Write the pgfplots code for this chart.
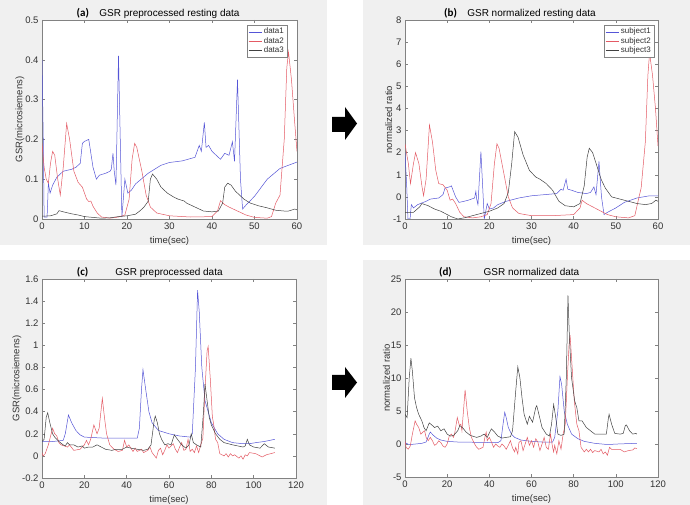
\documentclass[border=0pt]{standalone}
\usepackage{pgfplots}
\pgfplotsset{compat=1.18}
\usepackage{fontspec}
\setmainfont{Liberation Sans}
\newfontfamily\carlito{Carlito}
\definecolor{bg}{RGB}{240,240,240}
\definecolor{c1}{RGB}{85,85,215}
\definecolor{c2}{RGB}{228,90,100}
\definecolor{c3}{RGB}{65,65,65}
\definecolor{axc}{RGB}{130,130,130}
\definecolor{txt}{RGB}{50,50,50}
\tikzset{plab/.style={font=\carlito\bfseries\fontsize{11}{12}\selectfont, anchor=base, yshift=3.5pt}}
\pgfplotsset{
 every axis title shift=0pt,
 gsr/.style={
  scale only axis, anchor=south west, clip mode=individual,
  axis line style={axc, line width=0.5pt},
  every tick/.style={axc, line width=0.5pt},
  major tick length=3pt,
  tick align=inside,
  /pgf/number format/assume math mode=true,
  /pgf/number format/fixed,
  tick label style={font=\fontsize{9.5}{11}\selectfont, text=txt},
  label style={font=\fontsize{9.5}{11}\selectfont, text=txt},
  ylabel shift=-6pt,
  title style={font=\fontsize{10}{12}\selectfont, text=black, at={(0.5,1)}, anchor=base, yshift=3.5pt},
  axis background/.style={fill=white},
  every axis plot/.append style={line width=0.5pt, mark=none},
  xlabel={time(sec)},
  legend cell align=left,
  legend style={draw=axc, fill=white, font=\fontsize{8}{9}\selectfont, text=txt, inner sep=1pt, row sep=-2pt},
  legend image code/.code={\draw[#1] (0pt,0pt) -- (13pt,0pt);},
 },
}
\begin{document}
\begin{tikzpicture}
\useasboundingbox (0pt,0pt) rectangle (690pt,505pt);
\fill[bg] (0pt,260pt) rectangle (327pt,505pt);
\fill[bg] (363pt,260pt) rectangle (690pt,505pt);
\fill[bg] (0pt,0pt) rectangle (327pt,245pt);
\fill[bg] (363pt,0pt) rectangle (690pt,245pt);
\fill (332pt,373pt) -- (345pt,373pt) -- (345pt,365pt) -- (357pt,381.5pt) -- (345pt,398pt) -- (345pt,388pt) -- (332pt,388pt) -- cycle;
\fill (332pt,115pt) -- (345pt,115pt) -- (345pt,107pt) -- (357pt,122.5pt) -- (345pt,138pt) -- (345pt,130pt) -- (332pt,130pt) -- cycle;

% (a)
\begin{axis}[gsr, at={(42pt,286pt)}, width=255pt, height=199pt,
  xmin=0, xmax=60, ymin=0, ymax=0.5,
  xtick={0,10,20,30,40,50,60}, ytick={0,0.1,0.2,0.3,0.4,0.5},
  ylabel={GSR(microsiemens)}, title={GSR preprocessed resting data},
  legend style={at={(0.961,0.975)}, anchor=north east}]
\addplot[c1] coordinates {(0,0.40) (0.3,0.20) (0.5,0.005) (1.2,0.005) (1.5,0.09) (1.9,0.065) (2.5,0.085) (3.5,0.105) (5,0.12) (7,0.125) (8,0.13) (9,0.14) (9.5,0.19) (10,0.195) (11,0.2) (12,0.13) (12.8,0.1) (13.5,0.11) (15,0.115) (16,0.12) (16.3,0.125) (16.7,0.165) (17,0.12) (17.4,0.085) (18,0.41) (18.8,0.005) (19.5,0.1) (20.2,0.065) (21,0.072) (22,0.088) (25,0.115) (28,0.135) (30,0.142) (33,0.146) (36,0.155) (37,0.185) (37.5,0.17) (38.2,0.243) (38.6,0.18) (39.2,0.185) (40,0.17) (41,0.16) (42,0.15) (43,0.165) (44,0.16) (44.8,0.194) (45.3,0.145) (46,0.35) (46.7,0.1) (47.2,0.025) (48,0.035) (50,0.057) (53,0.1) (56,0.127) (60,0.143)};
\addplot[c2] coordinates {(0,0.19) (0.5,0.13) (1,0.1) (1.5,0.09) (2,0.14) (2.5,0.17) (3,0.16) (3.7,0.1) (4.3,0.06) (5,0.13) (5.8,0.24) (6.5,0.2) (7.5,0.12) (8.5,0.092) (9.5,0.08) (10.5,0.05) (11,0.044) (11.5,0.045) (12,0.032) (13,0.015) (14,0.005) (16,0.002) (18,0.005) (19.5,0.01) (20.5,0.05) (21.2,0.15) (21.8,0.19) (22.3,0.18) (23.5,0.12) (24.5,0.06) (25.5,0.03) (27,0.015) (30,0.008) (35,0.005) (40,0.006) (41.3,0.02) (42,0.046) (43,0.036) (44,0.03) (46,0.02) (48,0.01) (50,0.004) (53,0.002) (54,0.006) (55,0.04) (56,0.06) (57,0.2) (57.6,0.38) (58,0.42) (58.7,0.35) (59.4,0.25) (60,0.17)};
\addplot[c3] coordinates {(0,0.007) (2,0.008) (3.5,0.013) (4,0.021) (5,0.018) (7,0.013) (8.5,0.01) (10,0.006) (12,0.004) (14,0.002) (16,0.003) (18,0.006) (20,0.008) (22,0.012) (23,0.02) (24,0.03) (25,0.045) (25.5,0.1) (26,0.113) (27,0.1) (28,0.08) (29.5,0.065) (31,0.055) (32,0.05) (33.5,0.045) (34,0.04) (36,0.03) (38,0.02) (40,0.018) (41.5,0.02) (42.5,0.04) (43,0.08) (43.7,0.09) (44.5,0.085) (45.5,0.07) (46.5,0.06) (47.5,0.05) (49,0.04) (51,0.033) (53,0.028) (55,0.022) (57,0.02) (58,0.02) (59.5,0.025) (60,0.023)};
\legend{data1,data2,data3}
\node[plab] at (rel axis cs:0.16,1) {(a)};
\end{axis}

% (b)
\begin{axis}[gsr, at={(405pt,286pt)}, width=253pt, height=199pt,
  xmin=0, xmax=60, ymin=-1, ymax=8,
  xtick={0,10,20,30,40,50,60}, ytick={-1,0,1,2,3,4,5,6,7,8},
  ylabel={normalized ratio}, title={GSR normalized resting data},
  legend style={at={(0.984,0.975)}, anchor=north east}]
\addplot[c1] coordinates {(0,2.0) (0.4,0.5) (0.7,-1) (1.2,-1) (1.5,-0.35) (2,-0.5) (3,-0.35) (5,-0.2) (6,-0.1) (8,-0.05) (9,0.1) (9.5,0.4) (10.5,0.45) (11,0.5) (12,0) (12.8,-0.25) (14,-0.2) (15,-0.15) (16.5,-0.05) (16.8,0.25) (17,-0.1) (17.3,-0.35) (18,2.05) (18.8,-1) (19.5,-0.3) (20,-0.55) (21,-0.5) (22,-0.35) (24,-0.2) (27,-0.05) (30,0.05) (33,0.1) (36,0.15) (37,0.35) (37.5,0.3) (38.2,0.8) (38.6,0.35) (39.5,0.3) (41,0.2) (43,0.15) (44,0.2) (44.8,0.45) (45.3,0.1) (46,1.6) (46.6,0) (47.2,-0.8) (48,-0.7) (50,-0.5) (52,-0.25) (55,-0.05) (58,0.05) (60,0.05)};
\addplot[c2] coordinates {(0,2.4) (0.8,1.5) (1.3,0.6) (2,1.5) (2.5,2.0) (3.3,1.5) (4,0.5) (4.4,0.05) (5,0.8) (5.8,3.25) (6.5,2.5) (7.3,1.2) (8,0.6) (9,0.55) (10,0.3) (10.7,-0.15) (11.3,-0.1) (12,-0.3) (13,-0.7) (14,-0.9) (16,-0.95) (18,-0.9) (19.5,-0.8) (20.4,-0.3) (21.2,1.5) (21.8,2.4) (22.3,2.2) (23.5,1) (24.5,0) (25.5,-0.5) (27,-0.75) (30,-0.85) (35,-0.85) (40,-0.8) (41.5,-0.5) (42,-0.15) (43,-0.3) (44,-0.4) (46,-0.6) (48,-0.8) (50,-0.9) (53,-0.95) (54.5,-0.85) (55.5,0) (56,0.4) (57,2.5) (57.6,5.5) (58,6.5) (58.7,5.5) (59.4,4) (60,2.3)};
\addplot[c3] coordinates {(0,-0.7) (2,-0.7) (3.5,-0.45) (4,-0.3) (5.5,-0.4) (7,-0.55) (8.5,-0.65) (10,-0.8) (11,-0.9) (12.5,-1) (14,-0.95) (16,-0.85) (18,-0.75) (20,-0.65) (22,-0.5) (23.5,-0.3) (24.5,0.2) (25.3,1.5) (26,2.95) (26.8,2.7) (28,1.9) (29.5,1.2) (31,0.9) (32,0.8) (33.5,0.6) (35,0.3) (36.5,-0.2) (38,-0.4) (40,-0.45) (41.5,-0.3) (42.5,0.5) (43.2,1.8) (43.7,2.2) (44.5,2.0) (45.5,1.4) (46.5,0.8) (47.5,0.4) (49,0) (51,-0.1) (53,-0.2) (55,-0.3) (57,-0.35) (58.5,-0.3) (59.5,-0.15) (60,-0.2)};
\legend{subject1,subject2,subject3}
\node[plab] at (rel axis cs:0.18,1) {(b)};
\end{axis}

% (c)
\begin{axis}[gsr, at={(42pt,27pt)}, width=254pt, height=199pt,
  xmin=0, xmax=120, ymin=-0.2, ymax=1.6,
  xtick={0,20,40,60,80,100,120}, ytick={-0.2,0,0.2,0.4,0.6,0.8,1,1.2,1.4,1.6},
  ylabel={GSR(microsiemens)}, title={GSR preprocessed data}]
\addplot[c1] coordinates {(0,0.13) (5,0.13) (10,0.14) (11,0.2) (12.5,0.37) (14,0.3) (16,0.23) (18,0.19) (20,0.17) (25,0.165) (30,0.16) (40,0.16) (45,0.16) (46,0.25) (47,0.6) (47.7,0.78) (49,0.6) (50.5,0.4) (52,0.3) (55,0.23) (60,0.2) (65,0.18) (70,0.17) (71,0.2) (72.5,0.8) (73.5,1.5) (74.3,1.3) (75.5,0.8) (77,0.5) (80,0.3) (83,0.2) (86,0.15) (90,0.12) (95,0.11) (98,0.11) (101,0.12) (105,0.13) (110,0.15)};
\addplot[c2] coordinates {(0,0.03) (0.5,0) (1.5,0.02) (3,0.1) (5,0.25) (6,0.2) (7,0.18) (8,0.12) (9,0.1) (12,0.08) (13,0.1) (15,0.05) (18,0.06) (20,0.1) (21,0.14) (22,0.1) (23,0.15) (24.5,0.28) (26,0.2) (27,0.25) (28.5,0.52) (29.5,0.35) (30.5,0.2) (32,0.1) (34,0.06) (36,0.04) (38,0.05) (39,0.14) (40,0.08) (41,0.1) (43,0.04) (44,0.07) (45,0.04) (47,0.06) (48,0.03) (50,0.05) (51,0.08) (52,0.03) (54,-0.02) (55,0.05) (56,0.07) (57,0.01) (58,0.05) (59,0.1) (60,0.07) (62,0.11) (63,0.06) (64,0.03) (65,0.08) (66,0.12) (67,0.05) (68,0.06) (69,0.15) (70,0.04) (71,0.06) (72,0.03) (73,0.09) (74,0.03) (75,0.1) (76,0.16) (77,0.6) (78,0.95) (78.5,0.99) (79.5,0.7) (80.5,0.35) (81,0.3) (82,0.15) (83,0.12) (84,0.02) (86,0) (87,0.02) (88,-0.01) (89,0.02) (90,0) (91,0.01) (93,-0.02) (94,0) (95,-0.03) (96,0.01) (97,0) (98,0.03) (101,0.02) (104,-0.01) (106,0.01) (108,0.02) (110,0.03)};
\addplot[c3] coordinates {(0,0.13) (1,0.15) (2,0.35) (2.7,0.39) (3.7,0.3) (5,0.2) (6,0.17) (7,0.15) (8,0.13) (10,0.1) (11,0.09) (12,0.12) (13,0.1) (15,0.1) (17,0.08) (19,0.09) (20,0.07) (22,0.08) (24,0.08) (26,0.1) (28,0.08) (30,0.06) (33,0.05) (35,0.06) (38,0.06) (40,0.08) (42,0.07) (45,0.06) (48,0.05) (50,0.06) (51.5,0.1) (53,0.32) (53.5,0.36) (54.5,0.3) (55.5,0.2) (56.5,0.15) (58,0.1) (59.5,0.11) (61,0.1) (62.5,0.19) (64,0.15) (66,0.1) (68,0.07) (69.5,0.1) (70.5,0.2) (71.5,0.12) (73,0.1) (75,0.08) (76.3,0.4) (77,0.65) (78,0.5) (79,0.35) (80,0.28) (82,0.2) (84,0.15) (86,0.12) (90,0.1) (95,0.08) (96,0.09) (97,0.15) (98,0.1) (100,0.08) (103,0.07) (104,0.09) (105,0.11) (107,0.08) (110,0.07)};
\node[plab] at (rel axis cs:0.16,1) {(c)};
\end{axis}

% (d)
\begin{axis}[gsr, at={(405pt,28pt)}, width=253pt, height=198pt,
  xmin=0, xmax=120, ymin=-5, ymax=25,
  xtick={0,20,40,60,80,100,120}, ytick={-5,0,5,10,15,20,25},
  ylabel={normalized ratio}, title={GSR normalized data}]
\addplot[c1] coordinates {(0,0.2) (2,-0.1) (5,0) (8,0.1) (10,0.3) (11.5,1.5) (12,1.8) (13.5,1.3) (15,0.9) (17,0.6) (20,0.4) (25,0.3) (35,0.25) (44,0.2) (45.5,0.5) (46.5,3) (47.3,4.8) (48,4) (49,2.5) (50.5,1.5) (52,1) (55,0.6) (60,0.4) (65,0.3) (70,0.3) (71,1) (72.5,5) (73.5,10.2) (74.3,9) (75.5,5) (77,3) (79,1.5) (82,0.8) (85,0.4) (90,0.1) (95,-0.05) (98,-0.05) (101,0) (105,0.05) (110,0.1)};
\addplot[c2] coordinates {(0,0.5) (0.5,-0.5) (1.5,-0.8) (2.5,-0.3) (3.5,1.5) (4.8,3.5) (5.5,3) (6.5,2.5) (7.5,1.5) (8.5,1.8) (9.3,2) (10,1) (11,0.5) (12,1) (13,0.5) (14,-0.2) (15,0) (16,0.5) (17,0.2) (18,-0.3) (19,-0.5) (20,0) (21,1.2) (22,1.5) (23,1) (23.5,1.5) (24.8,4) (25.8,2.8) (26.5,3) (27,2) (28.5,8.2) (29.5,5) (30.5,2.5) (31.5,1) (33,0) (34,-0.5) (35,-0.8) (37,-0.5) (38,1.2) (38.5,1.8) (39,0.5) (40,1) (41,0.3) (42,-0.5) (43,0) (44,-0.3) (45,-0.5) (46,0) (47,-0.3) (48,-0.8) (49,-0.2) (50,0.5) (51,-0.6) (52,-1.2) (52.5,-0.5) (53.5,-1.5) (54,0.2) (55,0.5) (56,-1) (57,0) (58,1) (59,-0.2) (60,0.5) (61,-0.5) (62,0.8) (63,0.3) (64,-1) (65,0) (66,1) (67,-0.5) (68,-0.8) (69,1.5) (70,-0.5) (70.5,-1.2) (71,-0.2) (72,-1.5) (73,0.5) (74,-0.8) (75,1.5) (76,3) (77,10) (77.8,15) (78.3,16.5) (79.2,12) (80.3,6.5) (81.5,3) (82.5,2) (83.5,-0.5) (85,-1.2) (86,-0.8) (87,-1.2) (88,-0.8) (89,-1.3) (90,-1) (92,-1.2) (93,-0.8) (94,-1.5) (95,-1.2) (96,-1.7) (97,-0.5) (98,-0.8) (100,-0.8) (102,-0.8) (104,-1.2) (106,-1) (108,-0.9) (109,-0.6) (110,-0.7)};
\addplot[c3] coordinates {(0,4.5) (1,4) (2,10) (2.8,13) (3.5,11) (4.5,7) (5.5,5.5) (6.5,4.5) (8,3.5) (9,2.5) (10,2) (11.5,3.2) (13,2.8) (14,2.5) (15.5,2.7) (17,2) (18.5,2.3) (20,1.5) (21.5,1.2) (23,1.3) (25,2) (26,2.8) (27.5,2.4) (29,1.8) (31,1.3) (34,1) (36,1.2) (37.5,1.5) (39,1) (40.5,2) (41,2.3) (42.5,1.8) (44,1.2) (46,0.9) (48,1) (50,1.1) (51,2) (52.5,8) (53.5,11.7) (54.5,10) (55.5,7) (56.5,4.5) (58,3) (59,4.2) (60.5,3.3) (62,5.5) (62.5,5.8) (63.5,4.5) (65,2.5) (67,1.5) (68.5,1.2) (69.5,3) (70.5,6) (71.5,4) (72.5,1.5) (74,1.3) (75.5,1.5) (76.5,10) (77.3,22.5) (78,16) (79,10) (80.5,6.5) (81.5,5.5) (82.5,3.5) (84,3.5) (86,2.5) (88,2) (90,1.5) (94,1.5) (95.5,1.5) (96.5,4) (96.8,4.5) (98,3) (99.5,1.6) (102,1.5) (103.5,1.6) (104.5,2.8) (105,2.9) (106.5,2) (108,1.5) (109.5,1.6) (110,1.5)};
\node[plab] at (rel axis cs:0.16,1) {(d)};
\end{axis}
\end{tikzpicture}
\end{document}
